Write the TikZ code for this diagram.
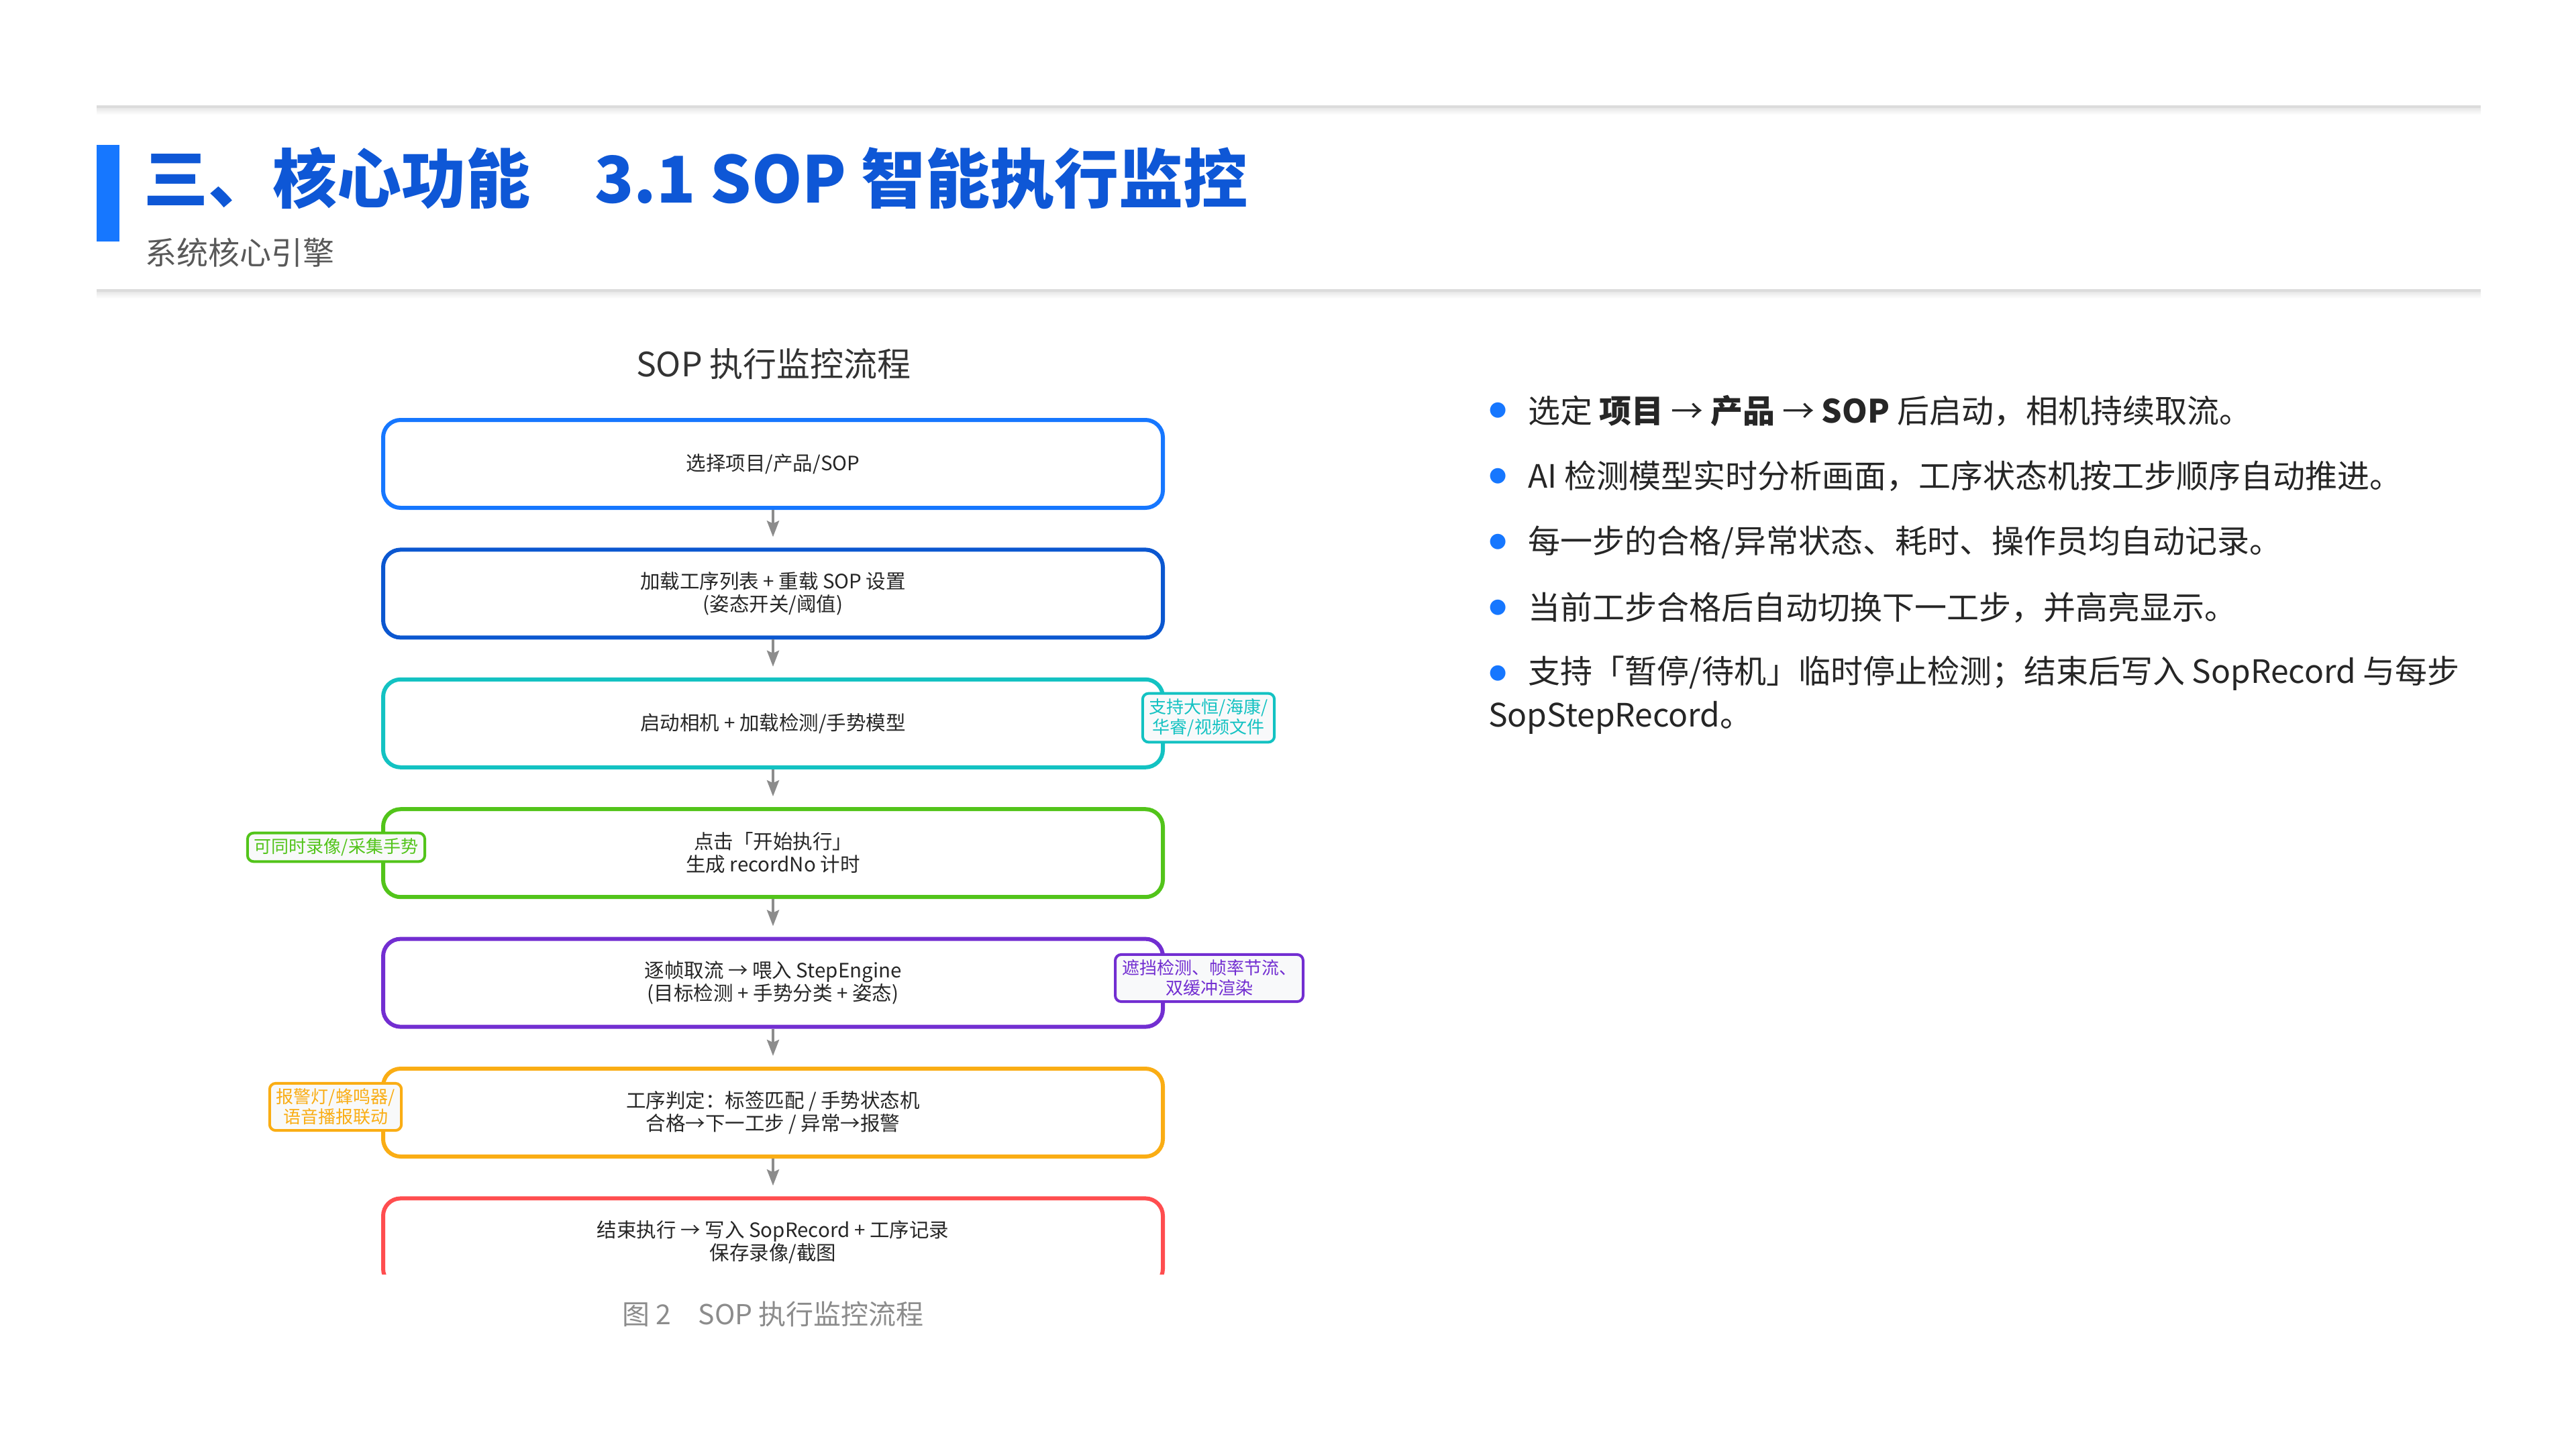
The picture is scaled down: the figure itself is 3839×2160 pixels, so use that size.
\documentclass[tikz,border=0pt]{standalone}
\usepackage{fontspec}
\setmainfont{Noto Sans CJK SC}
\newfontfamily\dvs{DejaVu Sans}
\usetikzlibrary{arrows.meta}
\definecolor{titleblue}{HTML}{0E57D6}
\definecolor{barblue}{HTML}{1677FF}
\definecolor{cA}{HTML}{1677FF}
\definecolor{cB}{HTML}{0B57D0}
\definecolor{cC}{HTML}{13C2C2}
\definecolor{cD}{HTML}{52C41A}
\definecolor{cE}{HTML}{722ED1}
\definecolor{cF}{HTML}{FAAD14}
\definecolor{cG}{HTML}{FF4D4F}
\definecolor{arrowgray}{HTML}{8C8C8C}
\definecolor{textdark}{HTML}{262626}
\definecolor{flowtitle}{HTML}{333333}
\definecolor{subgray}{HTML}{595959}
\definecolor{rulegray}{HTML}{DCDCDC}
\definecolor{notefill}{HTML}{F8F9FA}
\begin{document}
\begin{tikzpicture}[x=1pt,y=-1pt,
  stepbox/.style={draw=#1, line width=6pt, rounded corners=26pt, minimum width=1162pt, minimum height=131pt, inner sep=0pt, align=center, font=\fontsize{29.5pt}{34pt}\selectfont, text=textdark},
  notebox/.style={draw=#1, fill=notefill, line width=4pt, rounded corners=9pt, inner xsep=10pt, inner ysep=8pt, align=center, text=#1, font=\fontsize{26pt}{30pt}\selectfont},
  flowarrow/.style={draw=arrowgray, line width=4pt, -{Stealth[length=24pt,width=18pt,inset=4pt]}},
  bulletdot/.style={text=barblue, inner sep=0pt, font=\dvs\fontsize{30pt}{30pt}\selectfont},
  bullettext/.style={anchor=west, inner sep=0pt, text=textdark, font=\fontsize{48pt}{66pt}\selectfont}
]
\useasboundingbox[fill=white] (0,0) rectangle (3839,2160);

% header rules
\fill[rulegray] (144,157) rectangle (3697,161);
\shade[top color=black!9, bottom color=white] (144,161) rectangle (3697,171);
\fill[rulegray] (144,431) rectangle (3697,435);
\shade[top color=black!9, bottom color=white] (144,435) rectangle (3697,445);

% title
\fill[barblue] (144,216) rectangle (178,360);
\node[anchor=west, inner sep=0pt, text=titleblue, font=\fontsize{96pt}{110pt}\selectfont\bfseries] (title) at (214,266) {三、核心功能　3.1 SOP 智能执行监控};
\node[anchor=west, inner sep=0pt, text=subgray, font=\fontsize{47pt}{56pt}\selectfont] (subtitle) at (216,377) {系统核心引擎};

% flow title
\node[inner sep=0pt, text=flowtitle, font=\fontsize{50pt}{60pt}\selectfont] (flowtitle) at (1153,543) {SOP 执行监控流程};

% boxes
\node[stepbox=cA] (b1) at (1152,691.5) {选择项目/产品/SOP};
\node[stepbox=cB] (b2) at (1152,884.9) {加载工序列表 + 重载 SOP 设置\\(姿态开关/阈值)};
\node[stepbox=cC] (b3) at (1152,1078.3) {启动相机 + 加载检测/手势模型};
\node[stepbox=cD] (b4) at (1152,1271.7) {点击「开始执行」\\生成 recordNo 计时};
\node[stepbox=cE] (b5) at (1152,1465.1) {逐帧取流 → 喂入 StepEngine\\(目标检测 + 手势分类 + 姿态)};
\node[stepbox=cF] (b6) at (1152,1658.5) {工序判定：标签匹配 / 手势状态机\\合格→下一工步 / 异常→报警};
\begin{scope}
\clip (0,0) rectangle (3839,1899);
\node[stepbox=cG] (b7) at (1152,1851.9) {结束执行 → 写入 SopRecord + 工序记录\\保存录像/截图};
\end{scope}

% arrows
\draw[flowarrow] (b1.south) -- ([yshift=16pt]b2.north);
\draw[flowarrow] (b2.south) -- ([yshift=16pt]b3.north);
\draw[flowarrow] (b3.south) -- ([yshift=16pt]b4.north);
\draw[flowarrow] (b4.south) -- ([yshift=16pt]b5.north);
\draw[flowarrow] (b5.south) -- ([yshift=16pt]b6.north);
\draw[flowarrow] (b6.south) -- ([yshift=16pt]b7.north);

% notes
\node[notebox=cC] (n3) at (1801,1070) {支持大恒/海康/\\华睿/视频文件};
\node[notebox=cD] (n4) at (501,1263) {可同时录像/采集手势};
\node[notebox=cE] (n5) at (1802,1458) {遮挡检测、帧率节流、\\双缓冲渲染};
\node[notebox=cF] (n6) at (500,1650) {报警灯/蜂鸣器/\\语音播报联动};

% caption
\node[inner sep=0pt, text=arrowgray, font=\fontsize{41pt}{50pt}\selectfont] (caption) at (1152,1959) {图 2　SOP 执行监控流程};

% bullets
\node[bulletdot] (d1) at (2233,612) {●};
\node[bulletdot] (d2) at (2233,710) {●};
\node[bulletdot] (d3) at (2233,808) {●};
\node[bulletdot] (d4) at (2233,906) {●};
\node[bulletdot] (d5) at (2233,1004) {●};
\node[bullettext] (t1) at (2277,612) {选定 \textbf{项目} → \textbf{产品} → \textbf{SOP} 后启动，相机持续取流。};
\node[bullettext] (t2) at (2277,710) {AI 检测模型实时分析画面，工序状态机按工步顺序自动推进。};
\node[bullettext] (t3) at (2277,808) {每一步的合格/异常状态、耗时、操作员均自动记录。};
\node[bullettext] (t4) at (2277,906) {当前工步合格后自动切换下一工步，并高亮显示。};
\node[bullettext] (t5) at (2277,1004) {支持「暂停/待机」临时停止检测；结束后写入 SopRecord 与每步};
\node[bullettext] (t5b) at (2218,1070) {SopStepRecord。};
\end{tikzpicture}
\end{document}
